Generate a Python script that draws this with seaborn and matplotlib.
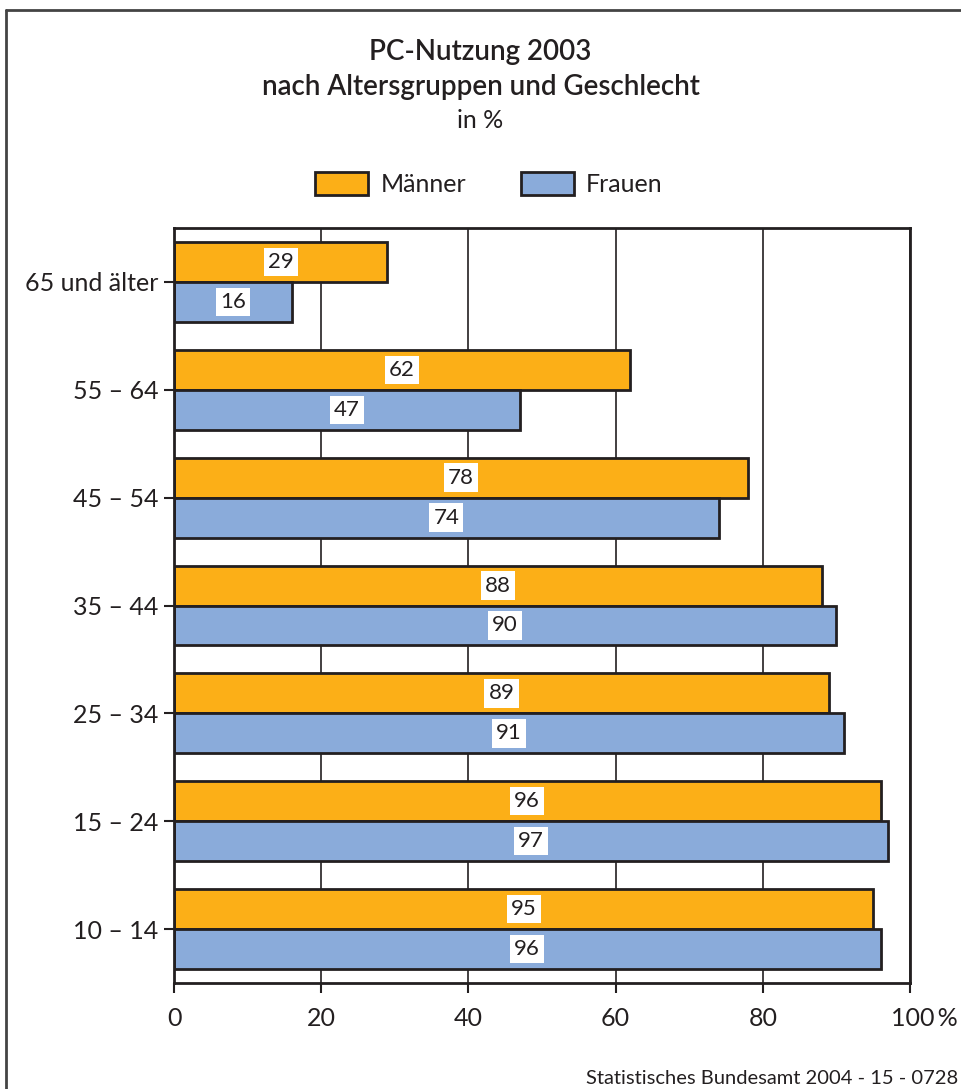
import pandas as pd
import matplotlib.pyplot as plt
import seaborn as sns
from matplotlib.patches import Patch
from matplotlib.lines import Line2D
import matplotlib.transforms as mtransforms

# Data
altersgruppen = ['65 und älter', '55 – 64', '45 – 54', '35 – 44', '25 – 34', '15 – 24', '10 – 14']
maenner = [29, 62, 78, 88, 89, 96, 95]
frauen = [16, 47, 74, 90, 91, 97, 96]
x_ticks = [0, 20, 40, 60, 80, 100]
x_ticklabels = ['0', '20', '40', '60', '80', '100\u2009%']

df = pd.DataFrame({
    'Altersgruppe': altersgruppen * 2,
    'Anteil': maenner + frauen,
    'Geschlecht': ['Männer'] * len(maenner) + ['Frauen'] * len(frauen),
})

sns.set_theme(style='white')
plt.rcParams['font.family'] = ['Lato', 'DejaVu Sans']
text_col = '#231f20'
colors = {'Männer': '#fcaf17', 'Frauen': '#8aabda'}

fig = plt.figure(figsize=(9.61, 10.89), dpi=100)
ax = fig.add_axes([174 / 961, 106 / 1089, 736 / 961, 755 / 1089])

# gridlines behind bars
ax.set_axisbelow(True)
ax.xaxis.grid(True, color=text_col, linewidth=1.2)

sns.barplot(data=df, y='Altersgruppe', x='Anteil', hue='Geschlecht', orient='h',
            palette=colors, saturation=1, width=0.74, edgecolor=text_col, linewidth=2,
            legend=False, ax=ax, order=altersgruppen, hue_order=['Männer', 'Frauen'])

# value labels in white boxes at half bar length
for cont in ax.containers:
    for bar in cont:
        w = bar.get_width()
        yc = bar.get_y() + bar.get_height() / 2
        ax.text(w / 2, yc, f'{w:.0f}', ha='center', va='center', fontsize=16,
                color=text_col,
                bbox=dict(facecolor='white', edgecolor='none', pad=3))

ax.set_xlim(0, 100)
ax.set_ylim(6.5, -0.5)
ax.set_xticks(x_ticks)
ax.set_xticklabels(x_ticklabels)
ax.set_xlabel('')
ax.set_ylabel('')
ax.tick_params(axis='x', bottom=True, length=7, width=1.5, color=text_col,
               labelsize=18, labelcolor=text_col, pad=10)
ax.tick_params(axis='y', left=True, length=7, width=1.5, color=text_col,
               labelsize=18, labelcolor=text_col, pad=4)
for sp in ax.spines.values():
    sp.set_visible(True)
    sp.set_color(text_col)
    sp.set_linewidth(2)

# shift the "100 %" label so that the number sits under its tick
lbl = ax.get_xticklabels()[-1]
lbl.set_transform(lbl.get_transform() + mtransforms.ScaledTranslation(0.14, 0, fig.dpi_scale_trans))

# titles
fig.text(0.5, 1 - 52 / 1089, 'PC-Nutzung 2003', ha='center', va='center',
         fontsize=20, fontweight='semibold', color=text_col)
fig.text(0.5, 1 - 87 / 1089, 'nach Altersgruppen und Geschlecht', ha='center', va='center',
         fontsize=20, fontweight='semibold', color=text_col)
fig.text(0.5, 1 - 120 / 1089, 'in %', ha='center', va='center',
         fontsize=18, color=text_col)

# legend
handles = [Patch(facecolor=colors[k], edgecolor=text_col, linewidth=2, label=k)
           for k in ['Männer', 'Frauen']]
fig.legend(handles=handles, loc='center', bbox_to_anchor=(489 / 961, 1 - 184 / 1089), ncol=2,
           frameon=False, fontsize=18, handlelength=2.1, handleheight=1.05,
           handletextpad=0.5, columnspacing=2.2, labelcolor=text_col)

# footer
fig.text(958 / 961, 1 - 1078 / 1089, 'Statistisches Bundesamt 2004 - 15 - 0728',
         ha='right', va='center', fontsize=14.5, color=text_col)

# outer frame (open on right and bottom)
fig.add_artist(Line2D([6 / 961, 6 / 961], [0, 1 - 10 / 1089], color='#444444', linewidth=2))
fig.add_artist(Line2D([6 / 961, 1], [1 - 10 / 1089, 1 - 10 / 1089], color='#444444', linewidth=2))

fig.savefig('out.png', dpi=100)
